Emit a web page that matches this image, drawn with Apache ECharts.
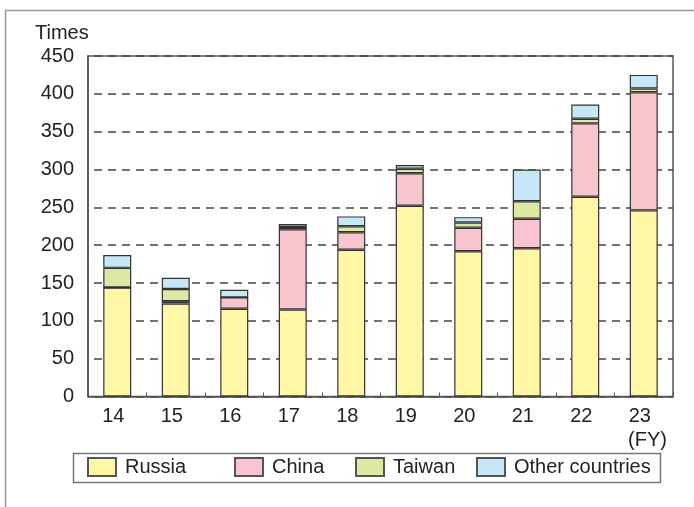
<!DOCTYPE html>
<html>
<head>
<meta charset="utf-8">
<script src="https://cdn.jsdelivr.net/npm/echarts@6/dist/echarts.min.js"></script>
<style>
html,body{margin:0;padding:0;background:#fff;}
#chart{width:694px;height:507px;}
</style>
</head>
<body>
<div id="chart"></div>
<script>
const categories = ['14','15','16','17','18','19','20','21','22','23'];
const russia = [144,123,116,115,194,252,192,196,264,246];
const china  = [0,3,15,106,23,43,31,39,97,156];
const taiwan = [26,16,0,3,8,6,7,23,6,5];
const others = [17,15,10,4,13,5,7,42,19,18];
const yTicks = { min: 0, max: 450, interval: 50 };
const seriesNames = ['Russia','China','Taiwan','Other countries'];
const seriesColors = ['#fff7a6','#f8c4cd','#dde9a2','#c6e7f6'];

const FONT = 'Liberation Sans, Arial, sans-serif';
const chart = echarts.init(document.getElementById('chart'), null, {renderer:'canvas'});

const dataSets = [russia, china, taiwan, others];
const series = dataSets.map((d, i) => ({
  name: seriesNames[i],
  type: 'bar',
  stack: 'total',
  data: d,
  barWidth: 28,
  itemStyle: { color: seriesColors[i], borderColor: '#333', borderWidth: 1.2 },
  emphasis: { disabled: true }
}));

const legendLefts = [87, 234, 355, 476];
const legends = seriesNames.map((n, i) => ({
  data: [{ name: n, icon: 'rect' }],
  left: legendLefts[i],
  top: 457,
  padding: 0,
  itemWidth: 28,
  itemHeight: 18,
  itemGap: 0,
  selectedMode: false,
  itemStyle: { color: seriesColors[i], borderColor: '#555', borderWidth: 2, borderType: 'solid' },
  textStyle: { fontFamily: FONT, fontSize: 20, color: '#222', padding: [0,0,0,4] }
}));

chart.setOption({
  animation: false,
  backgroundColor: '#fff',
  textStyle: { fontFamily: FONT },
  grid: { left: 88, right: 21, top: 56, bottom: 110.5, show: true, borderColor: '#555', borderWidth: 1.5, backgroundColor: 'transparent', containLabel: false },
  legend: legends,
  xAxis: {
    type: 'category',
    data: categories,
    axisLine: { show: true, lineStyle: { color: '#555', width: 1.5 } },
    axisTick: { show: true, inside: true, length: 4, lineStyle: { color: '#555' } },
    axisLabel: { fontFamily: FONT, fontSize: 20, color: '#222', margin: 10, padding: [0, 8, 0, 0] }
  },
  yAxis: {
    type: 'value',
    min: yTicks.min, max: yTicks.max, interval: yTicks.interval,
    axisLine: { show: true, lineStyle: { color: '#555', width: 1.5 } },
    axisTick: { show: false },
    axisLabel: { fontFamily: FONT, fontSize: 20, color: '#222', margin: 14 },
    splitLine: { show: true, lineStyle: { color: '#444', width: 1.5, type: [8, 6], dashOffset: 8 } }
  },
  graphic: [
    { type: 'rect', shape: { x: 5.5, y: 10.5, width: 720, height: 520 }, style: { fill: 'none', stroke: '#999', lineWidth: 1.5 }, silent: true, z: -1 },
    { type: 'rect', shape: { x: 73.5, y: 453.5, width: 587, height: 29 }, style: { fill: 'none', stroke: '#777', lineWidth: 1.5 }, silent: true },
    { type: 'text', left: 35, top: 23, style: { text: 'Times', fontFamily: FONT, fontSize: 20, fill: '#222' } },
    { type: 'text', left: 628, top: 430, style: { text: '(FY)', fontFamily: FONT, fontSize: 20, fill: '#222' } }
  ],
  series: series
});
</script>
</body>
</html>
